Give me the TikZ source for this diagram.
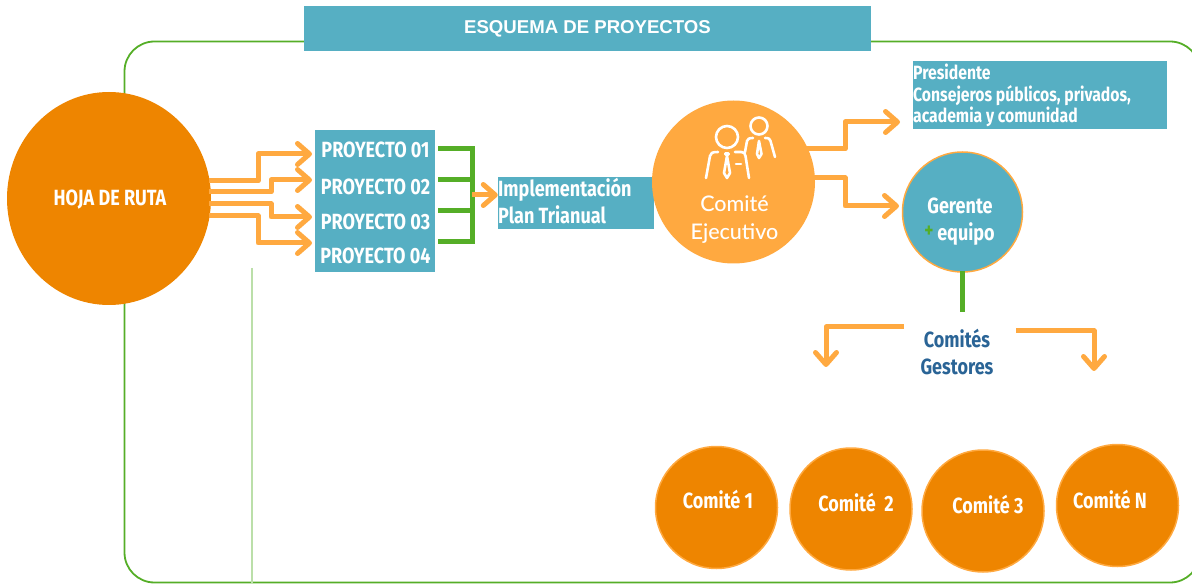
\documentclass[tikz,border=0pt]{standalone}
\usepackage{fontspec}
\setmainfont{Fira Sans}[FakeStretch=0.82]
\newfontfamily\titlefont{Liberation Sans}
\newfontfamily\roundfont{Lato Medium}
\usetikzlibrary{arrows.meta,shapes.geometric}
\definecolor{deeporange}{HTML}{EE8500}
\definecolor{softorange}{HTML}{FFA940}
\definecolor{tealblue}{HTML}{56AFC3}
\definecolor{framegreen}{HTML}{55AE27}
\definecolor{navytext}{HTML}{2A6496}
\tikzset{
  x=1pt,y=-1pt,
  flow/.style={draw=softorange,line width=5pt,line join=round,-{Straight Barb[round,length=12pt,width=21pt,line width=5pt]}},
  brace/.style={draw=framegreen,line width=5pt},
  panel/.style={fill=tealblue,inner sep=0pt,minimum width=0pt},
  lab/.style={text=white,font=\bfseries\fontsize{22}{24}\selectfont,inner sep=0pt},
  comite/.style={circle,fill=deeporange,draw=softorange,line width=1.5pt,minimum size=122pt,inner sep=0pt},
  clab/.style={text=white,font=\bfseries\fontsize{22}{24}\selectfont,inner sep=0pt},
  icon/.style={draw=white,line width=2.6pt,line cap=round,line join=round}
}
\begin{document}
\begin{tikzpicture}
\useasboundingbox (0,0) rectangle (1192,585);
% frame
\draw[framegreen,line width=1.8pt,rounded corners=30pt] (1200,60) -- (1200,41.5) -- (124.5,41.5) -- (124.5,582.5) -- (1200,582.5) -- (1200,560);
\draw[framegreen!40,line width=1.4pt] (252,268) -- (252,583);
% title
\node[panel,minimum width=567pt,minimum height=45pt,text=white,font=\titlefont\bfseries\fontsize{18.6}{24}\selectfont] (title) at (587.5,29) {ESQUEMA DE PROYECTOS};
% hoja
\node[ellipse,fill=deeporange,minimum width=204pt,minimum height=213pt,inner sep=0pt] (hoja) at (109,198.5) {};
\node[lab] (hojal) at (110,200) {HOJA DE RUTA};
% proyectos
\node[panel,minimum width=120pt,minimum height=142pt] (pbox) at (375,201) {};
\node[lab] (p1) at (375.5,150) {PROYECTO 01};
\node[lab] (p2) at (375.5,187) {PROYECTO 02};
\node[lab] (p3) at (375.5,222) {PROYECTO 03};
\node[lab] (p4) at (375.5,256) {PROYECTO 04};
\coordinate (a1) at (209,181);
\coordinate (a2) at (209,192);
\coordinate (a3) at (209,204);
\coordinate (a4) at (209,216);
\coordinate (t1) at (312,154);
\coordinate (t2) at (312,180);
\coordinate (t3) at (312,217);
\coordinate (t4) at (312,243);
\draw[flow] (a1) -- (258,181) -- (258,154) -- (t1);
\draw[flow] (a2) -- (271,192) -- (271,180) -- (t2);
\draw[flow] (a3) -- (271,204) -- (271,217) -- (t3);
\draw[flow] (a4) -- (258,216) -- (258,243) -- (t4);
% bracket
\draw[brace] (438,149) -- (472,149);
\draw[brace] (438,180) -- (472,180);
\draw[brace] (438,211) -- (472,211);
\draw[brace] (438,242) -- (472,242);
\draw[brace] (472,146.5) -- (472,244.5);
% impl
\node[panel,minimum width=156pt,minimum height=52pt] (impl) at (576,203) {};
\node[lab,anchor=west] (i1) at (498,190) {Implementación};
\node[lab,anchor=west] (i2) at (498,215) {Plan Trianual};
\coordinate (br) at (472,195);
\draw[flow] (br) -- (impl.west |- br);
% comite ejecutivo
\node[circle,fill=softorange,minimum size=163pt,inner sep=0pt] (ce) at (733.5,182) {};
\node[text=white,font=\roundfont\fontsize{21.5}{26}\selectfont,align=center,inner sep=0pt] (cel) at (734.5,220) {Comité\\[2pt]Ejecutivo};
% icon
\draw[icon] (727,137) circle (11);
\draw[icon] (759,126) circle (8.5);
\draw[icon] (706,178) -- (710,156) .. controls (710.5,153) and (712,152) .. (718,152);
\draw[icon] (735,152) -- (741,152) .. controls (744,152) and (745,153) .. (745.5,156) -- (749,178);
\draw[icon] (745,152) -- (747,141) .. controls (747.5,139) and (749,138) .. (753,138);
\draw[icon] (765,138) .. controls (769,138) and (770,139) .. (770.5,141) -- (775,157);
\draw[icon] (727,156) -- (724,173) -- (727,178) -- (730,173) -- cycle;
\draw[icon,fill=white] (725.5,153.5) rectangle (728.5,154.5);
\draw[icon] (759,141) -- (757,154) -- (759,158) -- (761.5,154) -- cycle;
\draw[icon] (736,164) -- (741,164);
% presidente
\node[panel,minimum width=254pt,minimum height=68pt] (pres) at (1040,95) {};
\node[lab,anchor=west,font=\bfseries\fontsize{19.2}{21.5}\selectfont,align=left] (prest) at (913,95.5) {Presidente\\Consejeros públicos, privados,\\academia y comunidad};
\coordinate (c1) at (805,149);
\coordinate (c2) at (813,178);
\draw[flow] (c1) -- (845,149) -- (845,122) -- (900,122);
\draw[flow] (c2) -- (845,178) -- (845,206) -- (899,206);
% gerente
\node[circle,fill=tealblue,draw=softorange,line width=1.5pt,minimum size=120pt,inner sep=0pt] (ger) at (962.5,212) {};
\node[lab] (gerl) at (960,206) {Gerente};
\node[lab] (gerq) at (966,234) {equipo};
\node[text=framegreen,font=\bfseries\fontsize{21}{24}\selectfont,inner sep=0pt] (plus) at (929,232) {+};
\draw[brace] (962,271) -- (962,312);
% gestores
\node[text=navytext,font=\bfseries\fontsize{22}{27}\selectfont,align=center,inner sep=0pt] (gest) at (957,352) {Comités\\Gestores};
\draw[flow] (904,327) -- (826,327) -- (826,367);
\draw[flow] (1016,331) -- (1094,331) -- (1094,371);
% comites
\node[comite] (k1) at (716.5,507.5) {};
\node[comite] (k2) at (851,509) {};
\node[comite] (k3) at (983,511) {};
\node[comite] (kn) at (1117.5,505.5) {};
\node[clab] (k1l) at (718,500) {Comité 1};
\node[clab] (k2l) at (856,503) {Comité\ \ 2};
\node[clab] (k3l) at (988,505) {Comité 3};
\node[clab] (knl) at (1110,500) {Comité N};
\end{tikzpicture}
\end{document}
